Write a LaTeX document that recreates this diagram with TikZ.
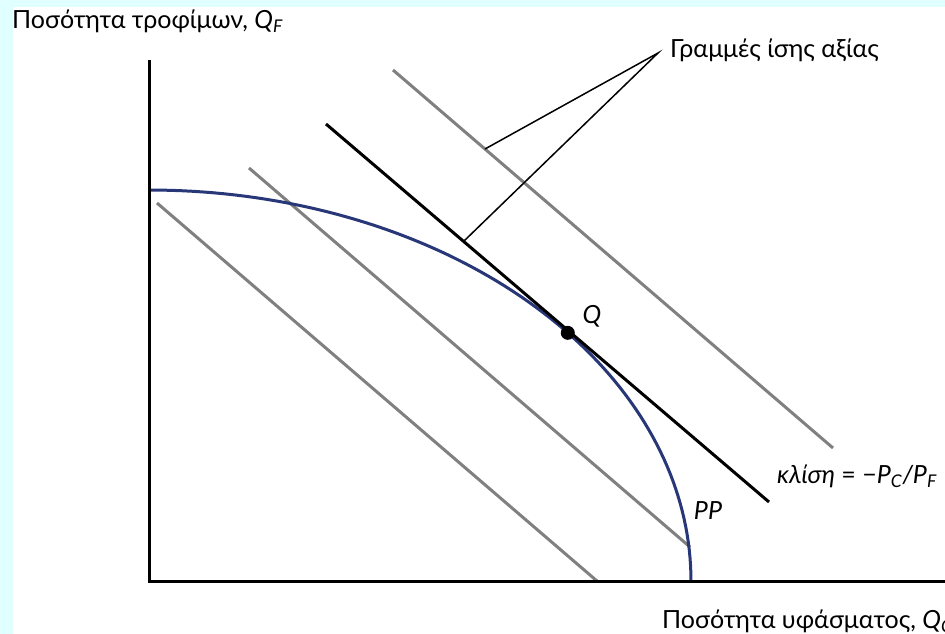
\documentclass[tikz,border=0pt]{standalone}
\usepackage{fontspec}
\setmainfont{Lato}
\definecolor{bgcyan}{RGB}{224,255,255}
\definecolor{ppblue}{RGB}{40,55,120}
\definecolor{isogray}{RGB}{128,128,128}
\tikzset{
  axisline/.style={line width=3pt, black},
  isoline/.style={line width=3pt, isogray},
  tangline/.style={line width=3pt, black},
  ppcurve/.style={line width=3pt, ppblue},
  pointer/.style={line width=1.5pt, black},
  lab/.style={inner sep=0pt, font=\fontsize{25}{30}\selectfont},
  ilab/.style={inner sep=0pt, font=\fontsize{25}{30}\selectfont\itshape},
  dot/.style={circle, fill=black, inner sep=0pt, minimum size=14pt}
}
\begin{document}
\begin{tikzpicture}[x=1pt,y=-1pt]
\useasboundingbox (0,0) rectangle (945,634);
\fill[bgcyan] (0,0) rectangle (945,634);
\fill[white] (13,7) rectangle (945,634);
\clip (0,0) rectangle (945,634);
% axes
\coordinate (O) at (149,581);
\coordinate (ytop) at (149,60);
\coordinate (xend) at (945,581);
% iso-value lines
\coordinate (g1a) at (393,70);  \coordinate (g1b) at (833,448);
\coordinate (g2a) at (249,168); \coordinate (g2b) at (690,547);
\coordinate (g3a) at (157,203); \coordinate (g3b) at (597,581);
\draw[isoline] (g1a) -- (g1b);
\draw[isoline] (g2a) -- (g2b);
\draw[isoline] (g3a) -- (g3b);
% PP curve
\draw[ppcurve] plot[domain=0:90, samples=80] ({149+542*cos(\x)},{581-391*sin(\x)});
% tangent line
\coordinate (ta) at (326,124);
\coordinate (tb) at (769,502);
\draw[tangline] (ta) -- (tb);
\draw[axisline] (ytop) -- (O) -- (xend);
% Q point
\node[dot] (Q) at ({149+542*cos(39.4)},{581-391*sin(39.4)}) {};
\node[ilab] (Qlab) at (592,316) {Q};
% labels
\node[lab, anchor=west] (ylab) at (12,21) {Ποσότητα τροφίμων, \textit{Q}\textsubscript{\textit{F}}};
\node[lab, anchor=west] (xlab) at (662,621) {Ποσότητα υφάσματος, \textit{Q}\textsubscript{\textit{C}}};
\node[lab, anchor=west] (glab) at (670,50) {Γραμμές ίσης αξίας};
\node[lab, anchor=west] (slab) at (777,476) {\textit{κλίση} = −\textit{P}\textsubscript{\textit{C}}\textit{/P}\textsubscript{\textit{F}}};
\node[ilab] (pplab) at (708,511) {PP};
% pointers
\coordinate (conv) at (658,53);
\coordinate (p1) at (485,149);
\coordinate (p2) at (464,241);
\draw[pointer] (p1) -- (conv) -- (p2);
\end{tikzpicture}
\end{document}
